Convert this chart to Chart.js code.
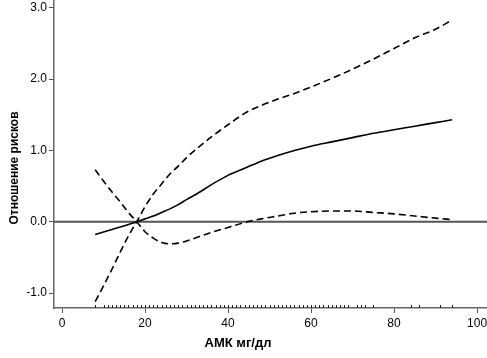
<!DOCTYPE html>
<html><head><meta charset="utf-8">
<script src="https://cdn.jsdelivr.net/npm/chart.js@4.4.1/dist/chart.umd.min.js"></script>
<style>html,body{margin:0;padding:0;background:#fff}#wrap{width:487px;height:358px;position:relative}</style>
</head><body><div id="wrap"><canvas id="c" width="487" height="358"></canvas></div>
<script>
const amk = [8,10,12,14,16,18,20,22,24,26,28,30,33,36,40,44,48,52,56,60,65,70,75,80,85,90,94];
const hrEstimate = [-0.18,-0.145,-0.11,-0.075,-0.04,0,0.04,0.08,0.13,0.18,0.24,0.31,0.41,0.52,0.65,0.75,0.85,0.93,1.0,1.06,1.12,1.18,1.24,1.29,1.34,1.39,1.43];
const ciUpper = [-1.12,-0.90,-0.67,-0.43,-0.20,0,0.21,0.39,0.53,0.67,0.78,0.90,1.05,1.19,1.36,1.52,1.63,1.72,1.80,1.89,2.01,2.14,2.28,2.43,2.58,2.70,2.83];
const ciLower = [0.73,0.57,0.42,0.28,0.13,0,-0.14,-0.23,-0.29,-0.31,-0.30,-0.27,-0.21,-0.15,-0.08,-0.01,0.04,0.08,0.12,0.14,0.15,0.15,0.13,0.11,0.08,0.05,0.03];
const rugValues = [8,10,11,12,13,14,15,16,17,18,19,20,21,22,23,24,25,26,27,28,29,30,31,32,33,34,35,36,37,38,39,40,41,42,43,44,45,46,47,48,49,50,51,52,53,54,55,56,57,58,59,60,61,62,63,64,65,66,67,68,69,71,72,73,75,84,86,91,94];
const xTicks = [0,20,40,60,80,100];
const yTicks = [-1,0,1,2,3];
const xTitle = 'АМК мг/дл';
const yTitle = 'Отношение рисков';

const FONT = "'Liberation Sans', Arial, sans-serif";
const toXY = (ys) => amk.map((x, i) => ({x, y: ys[i]}));

const annot = {
  id: 'annot',
  beforeDatasetsDraw(chart) {
    const {ctx, chartArea, scales} = chart;
    const y0 = scales.y.getPixelForValue(0);
    ctx.save();
    ctx.strokeStyle = '#555';
    ctx.lineWidth = 2;
    ctx.beginPath();
    ctx.moveTo(chartArea.left, y0);
    ctx.lineTo(chartArea.right, y0);
    ctx.stroke();
    ctx.restore();
  },
  afterDraw(chart) {
    const {ctx, chartArea, scales} = chart;
    ctx.save();
    ctx.strokeStyle = '#222';
    ctx.lineWidth = 1;
    ctx.beginPath();
    rugValues.forEach(v => {
      const px = Math.round(scales.x.getPixelForValue(v)) + 0.5;
      ctx.moveTo(px, chartArea.bottom - 3);
      ctx.lineTo(px, chartArea.bottom);
    });
    ctx.stroke();
    ctx.fillStyle = '#000';
    ctx.font = 'bold 13px ' + FONT;
    ctx.textAlign = 'center';
    ctx.textBaseline = 'middle';
    ctx.fillText(xTitle, 238, 343);
    ctx.translate(15, 168);
    ctx.rotate(-Math.PI / 2);
    ctx.font = 'bold 12px ' + FONT;
    ctx.fillText(yTitle, 0, 0);
    ctx.restore();
  }
};

const lineDs = (ys, dashed) => ({
  data: toXY(ys),
  borderColor: '#000',
  borderWidth: 1.6,
  borderDash: dashed ? [7, 4] : [],
  pointRadius: 0,
  cubicInterpolationMode: 'monotone',
  fill: false
});

new Chart(document.getElementById('c'), {
  type: 'line',
  data: { datasets: [lineDs(ciUpper, true), lineDs(ciLower, true), lineDs(hrEstimate, false)] },
  options: {
    responsive: false,
    animation: false,
    devicePixelRatio: 1,
    layout: { padding: 0 },
    plugins: { legend: { display: false }, tooltip: { enabled: false } },
    scales: {
      x: {
        type: 'linear', min: -1.93, max: 102.4,
        afterBuildTicks: s => { s.ticks = xTicks.map(v => ({value: v})); },
        afterFit: s => { s.height = 50; s.paddingLeft = 0; s.paddingRight = 0; },
        ticks: { color: '#000', font: { family: FONT, size: 12 }, padding: 3, maxRotation: 0, autoSkip: false, callback: v => String(v) },
        grid: { drawOnChartArea: false, tickLength: 5, color: '#555', lineWidth: 1 },
        border: { color: '#666', width: 1.5 }
      },
      y: {
        type: 'linear', min: -1.21, max: 3.11,
        afterBuildTicks: s => { s.ticks = yTicks.map(v => ({value: v})); },
        afterFit: s => { s.width = 54; s.paddingTop = 0; s.paddingBottom = 0; },
        ticks: { color: '#000', font: { family: FONT, size: 12 }, padding: 2, autoSkip: false, callback: v => Number(v).toFixed(1) },
        grid: { drawOnChartArea: false, tickLength: 5, color: '#555', lineWidth: 1 },
        border: { color: '#666', width: 1.5 }
      }
    }
  },
  plugins: [annot]
});
</script></body></html>
